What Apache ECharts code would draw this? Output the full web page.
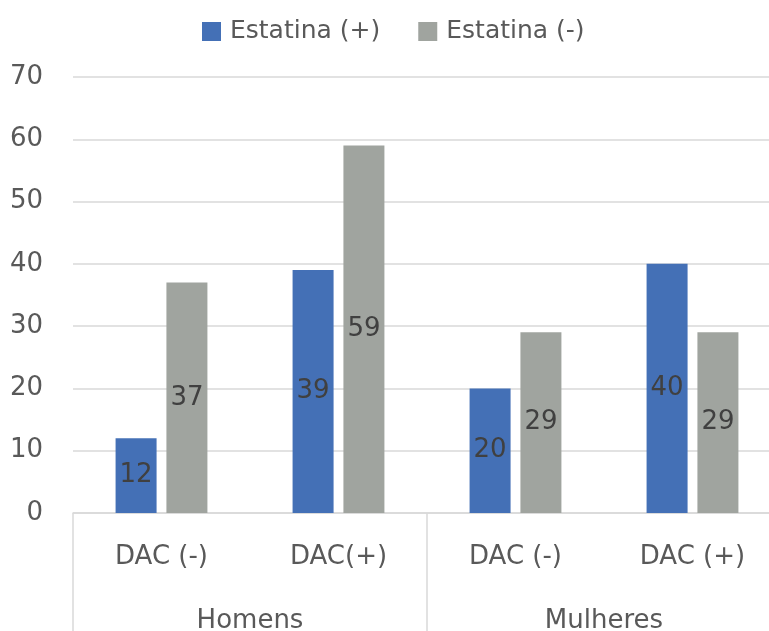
<!DOCTYPE html>
<html>
<head>
<meta charset="utf-8">
<script src="https://cdn.jsdelivr.net/npm/echarts@6/dist/echarts.min.js"></script>
<style>
  html, body { margin: 0; padding: 0; background: #ffffff; }
  #chart { width: 769px; height: 631px; }
</style>
</head>
<body>
<div id="chart"></div>
<script>
// Inner categories (DAC status) and outer groups (sex)
const subCategories = ['DAC (-)', 'DAC(+)', 'DAC (-)', 'DAC (+)'];
const groups = ['Homens', 'Mulheres'];
const seriesNames = ['Estatina (+)', 'Estatina (-)'];
const statinPos = [12, 39, 20, 40];
const statinNeg = [37, 59, 29, 29];
const yTicks = { min: 0, max: 70, interval: 10 };

const FONT = '"DejaVu Sans", sans-serif';
const TEXT = '#595959';
const LINE = '#d9d9d9';

const chart = echarts.init(document.getElementById('chart'), null, { renderer: 'canvas' });

const labelStyle = {
  show: true,
  position: 'inside',
  color: '#404040',
  fontFamily: FONT,
  fontSize: 26
};

chart.setOption({
  animation: false,
  backgroundColor: '#ffffff',
  textStyle: { fontFamily: FONT },
  legend: {
    data: seriesNames,
    left: 197,
    top: 14,
    itemWidth: 19,
    itemHeight: 19,
    itemGap: 38,
    icon: 'rect',
    textStyle: { color: TEXT, fontSize: 25, fontFamily: FONT, padding: [0, 0, 0, 4] }
  },
  grid: {
    left: 73, top: 77, width: 708, bottom: 118,
    containLabel: false,
    outerBoundsMode: 'none'
  },
  xAxis: [
    {
      type: 'category',
      data: subCategories,
      position: 'bottom',
      axisLine: { show: true, lineStyle: { color: LINE, width: 1.5 } },
      axisTick: { show: false },
      axisLabel: { color: TEXT, fontSize: 26, fontFamily: FONT, margin: 31, interval: 0 }
    },
    {
      type: 'category',
      data: groups,
      position: 'bottom',
      axisLine: { show: false },
      axisTick: { show: true, length: 118, lineStyle: { color: LINE, width: 1.5 } },
      axisLabel: { color: TEXT, fontSize: 26, fontFamily: FONT, margin: 95, interval: 0 }
    }
  ],
  yAxis: {
    type: 'value',
    min: yTicks.min,
    max: yTicks.max,
    interval: yTicks.interval,
    axisLine: { show: false },
    axisTick: { show: false },
    splitLine: { lineStyle: { color: LINE, width: 1.5 } },
    axisLabel: { color: TEXT, fontSize: 26, fontFamily: FONT, margin: 30 }
  },
  series: [
    {
      name: seriesNames[0],
      type: 'bar',
      xAxisIndex: 0,
      data: statinPos,
      barWidth: 41,
      barGap: '24%',
      itemStyle: { color: '#4470b6' },
      label: labelStyle
    },
    {
      name: seriesNames[1],
      type: 'bar',
      xAxisIndex: 0,
      data: statinNeg,
      barWidth: 41,
      barGap: '24%',
      itemStyle: { color: '#a0a49f' },
      label: labelStyle
    }
  ]
});
</script>
</body>
</html>
